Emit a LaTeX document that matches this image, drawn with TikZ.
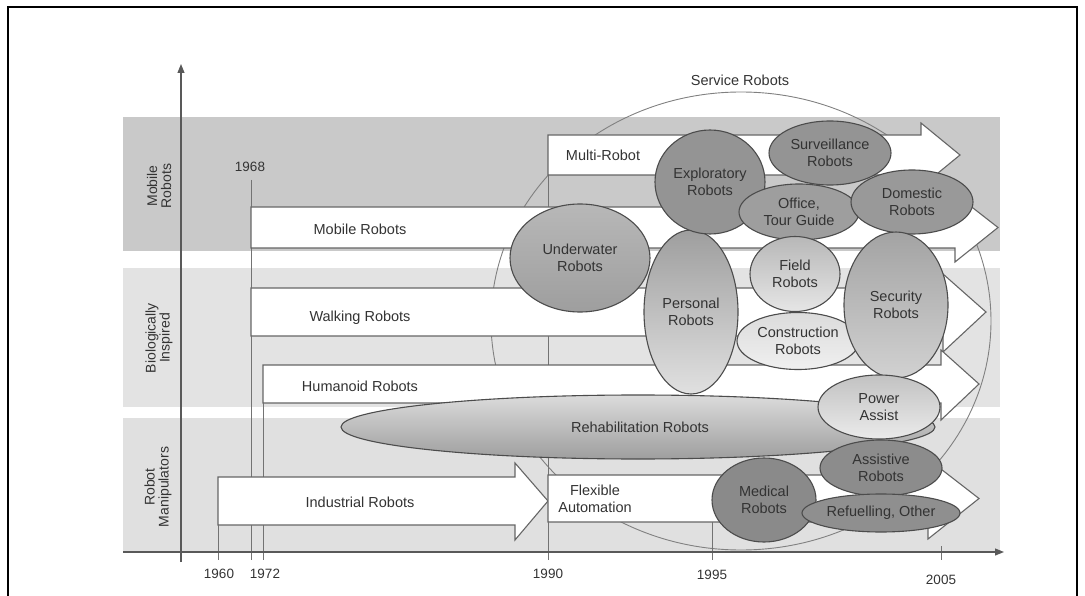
\documentclass[tikz,border=0pt]{standalone}
\usepackage{fontspec}
\setmainfont{Liberation Sans}
\usetikzlibrary{shapes.geometric,arrows.meta}
\newcommand\tlarrow[7]{% xleft, ytop, ybot, xbase, xtip, yheadtop, yheadbot
  \draw[tarrow] (#1,#2) -- (#4,#2) -- (#4,#6) -- (#5,{(#2+#3)/2}) -- (#4,#7) -- (#4,#3) -- (#1,#3) -- cycle;}
\begin{document}
\begin{tikzpicture}[x=1pt,y=-1pt,
  lbl/.style={font=\fontsize{14.5}{17}\selectfont, text=black!80, align=center, inner sep=0pt},
  sidelbl/.style={font=\fontsize{14}{14}\selectfont, text=black!80, align=center, inner sep=0pt, rotate=90},
  yearlbl/.style={font=\fontsize{13.5}{16}\selectfont, text=black!80, inner sep=0pt},
  bub/.style={ellipse, draw=black!70, line width=1.1pt, inner sep=0pt, align=center,
    font=\fontsize{14.5}{17}\selectfont, text=black!80},
  tarrow/.style={draw=black!60, fill=white, line width=1.1pt, line join=miter},
  yline/.style={draw=black!55, line width=0.9pt},
  axis/.style={draw=black!65, line width=1.1pt, -{Triangle[length=9pt,width=7pt]}},
]
\useasboundingbox (0,0) rectangle (1085,596);
% frame
\draw[line width=2.6pt] (8,596) -- (8,7) -- (1077,7) -- (1077,596);
% bands
\fill[black!21] (123,117) rectangle (1000,251);
\fill[black!11] (123,268) rectangle (1000,407);
\fill[black!12] (123,418) rectangle (1000,552);
% band labels
\node[sidelbl] (lmob) at (159,186) {Mobile\\Robots};
\node[sidelbl] (lbio) at (159,338) {Biologically\\Inspired};
\node[sidelbl] (lman) at (158,487) {Robot\\Manipulators};
% service circle
\draw[black!50, line width=0.9pt] (741,321) ellipse [x radius=250, y radius=229];
\node[lbl] (service) at (740,80) {Service Robots};
% year lines
\coordinate (y60t) at (218,490); \coordinate (y60b) at (218,560);
\coordinate (y68t) at (251,180); \coordinate (y68b) at (251,560);
\coordinate (y72t) at (263,365); \coordinate (y72b) at (263,560);
\coordinate (y90t) at (548,135); \coordinate (y90b) at (548,560);
\coordinate (y95t) at (712,500); \coordinate (y95b) at (712,560);
\coordinate (y05t) at (941,546); \coordinate (y05b) at (941,560);
\draw[yline] (y60t) -- (y60b);
\draw[yline] (y68t) -- (y68b);
\draw[yline] (y72t) -- (y72b);
\draw[yline] (y90t) -- (y90b);
\draw[yline] (y95t) -- (y95b);
\draw[yline] (y05t) -- (y05b);
% axes
\coordinate (vaxb) at (181,562); \coordinate (vaxt) at (181,64);
\coordinate (haxl) at (123,552); \coordinate (haxr) at (1004,552);
\draw[axis] (vaxb) -- (vaxt);
\draw[axis] (haxl) -- (haxr);
% year labels
\node[yearlbl] (t1960) at (219,574) {1960};
\node[yearlbl] (t1972) at (265,574) {1972};
\node[yearlbl] (t1990) at (548,574) {1990};
\node[yearlbl] (t1995) at (712,575) {1995};
\node[yearlbl] (t2005) at (941,580) {2005};
\node[yearlbl] (t1968) at (250,167) {1968};
% timeline arrows
\tlarrow{548}{135}{175}{921}{960}{123}{187}
\tlarrow{251}{207}{248}{955}{998}{194}{262}
\tlarrow{251}{288}{336}{943}{986}{274}{352}
\tlarrow{263}{365}{403}{941}{979}{350}{420}
\tlarrow{218}{477}{525}{515}{548}{463}{540}
\tlarrow{548}{475}{522}{928}{979}{459}{539}
\node[lbl] (multi) at (603,155) {Multi-Robot};
\node[lbl] (mobile) at (360,229) {Mobile Robots};
\node[lbl] (walking) at (360,318) {Walking Robots};
\node[lbl] (humanoid) at (360,386) {Humanoid Robots};
\node[lbl] (industrial) at (360,502) {Industrial Robots};
\node[lbl] (flexible) at (595,499) {Flexible\\Automation};
% ellipses
\node[bub, minimum width=594pt, minimum height=64pt, top color=black!14, bottom color=black!38] (rehab) at (638,427) {};
\node[lbl] (rehabt) at (640,427) {Rehabilitation Robots};
\node[bub, minimum width=140pt, minimum height=108pt, top color=black!28, bottom color=black!38] (under) at (580,258) {Underwater\\Robots};
\node[bub, minimum width=94pt, minimum height=164pt, top color=black!38, bottom color=black!12] (personal) at (691,312) {Personal\\Robots};
\node[bub, minimum width=110pt, minimum height=104pt, fill=black!42] (explor) at (710,182) {Exploratory\\Robots};
\node[bub, minimum width=122pt, minimum height=64pt, fill=black!42] (surv) at (830,153) {Surveillance\\Robots};
\node[bub, minimum width=120pt, minimum height=56pt, fill=black!38] (office) at (799,212) {Office,\\Tour Guide};
\node[bub, minimum width=122pt, minimum height=64pt, fill=black!40] (domestic) at (912,202) {Domestic\\Robots};
\node[bub, minimum width=90pt, minimum height=75pt, top color=black!28, bottom color=black!10] (field) at (795,274) {Field\\Robots};
\node[bub, minimum width=122pt, minimum height=57pt, top color=black!14, bottom color=black!6] (constr) at (798,341) {Construction\\Robots};
\node[bub, minimum width=104pt, minimum height=146pt, top color=black!36, bottom color=black!18] (security) at (896,305) {Security\\Robots};
\node[bub, minimum width=122pt, minimum height=64pt, top color=black!24, bottom color=black!8] (power) at (879,407) {Power\\Assist};
\node[bub, minimum width=122pt, minimum height=56pt, fill=black!45] (assist) at (881,468) {Assistive\\Robots};
\node[bub, minimum width=104pt, minimum height=84pt, fill=black!46] (medical) at (764,500) {Medical\\Robots};
\node[bub, minimum width=158pt, minimum height=38pt, fill=black!44] (refuel) at (881,513) {Refuelling, Other};
\end{tikzpicture}
\end{document}
